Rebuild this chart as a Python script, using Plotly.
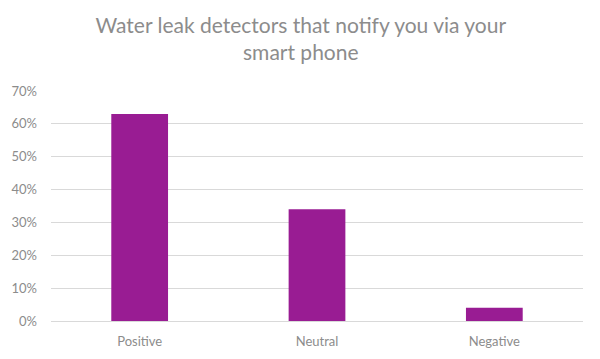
import plotly.graph_objects as go

categories = ["Positive", "Neutral", "Negative"]
values = [0.63, 0.34, 0.04]
tick_vals = [0, 0.1, 0.2, 0.3, 0.4, 0.5, 0.6, 0.7]
tick_text = ["0%", "10%", "20%", "30%", "40%", "50%", "60%", "70%"]

fig = go.Figure(go.Bar(x=categories, y=values, marker_color="#991C93",
                       marker_line_width=0, width=0.32))
fig.update_layout(
    width=600, height=359,
    margin=dict(l=43, r=25, t=83, b=46),
    paper_bgcolor="white", plot_bgcolor="white",
    font=dict(family="Lato, Open Sans, sans-serif", color="#8C8C8C"),
    title=dict(text="Water leak detectors that notify you via your<br>smart phone",
               x=0.488, xanchor="center", y=0.93, yanchor="top",
               font=dict(size=21, color="#8C8C8C", family="Lato, sans-serif")),
    showlegend=False,
)
fig.update_yaxes(range=[0, 0.7], tickvals=tick_vals, ticktext=tick_text,
                 showgrid=True, gridcolor="#D9D9D9", gridwidth=1,
                 zeroline=False, showline=False, ticks="", ticklen=0,
                 ticklabelstandoff=13, automargin=False,
                 tickfont=dict(size=13, color="#8C8C8C"))
fig.update_xaxes(showline=True, linecolor="#D9D9D9", linewidth=1, ticks="",
                 automargin=False, ticklabelstandoff=8,
                 tickfont=dict(size=13, color="#8C8C8C"))
fig.write_html("out.html")
